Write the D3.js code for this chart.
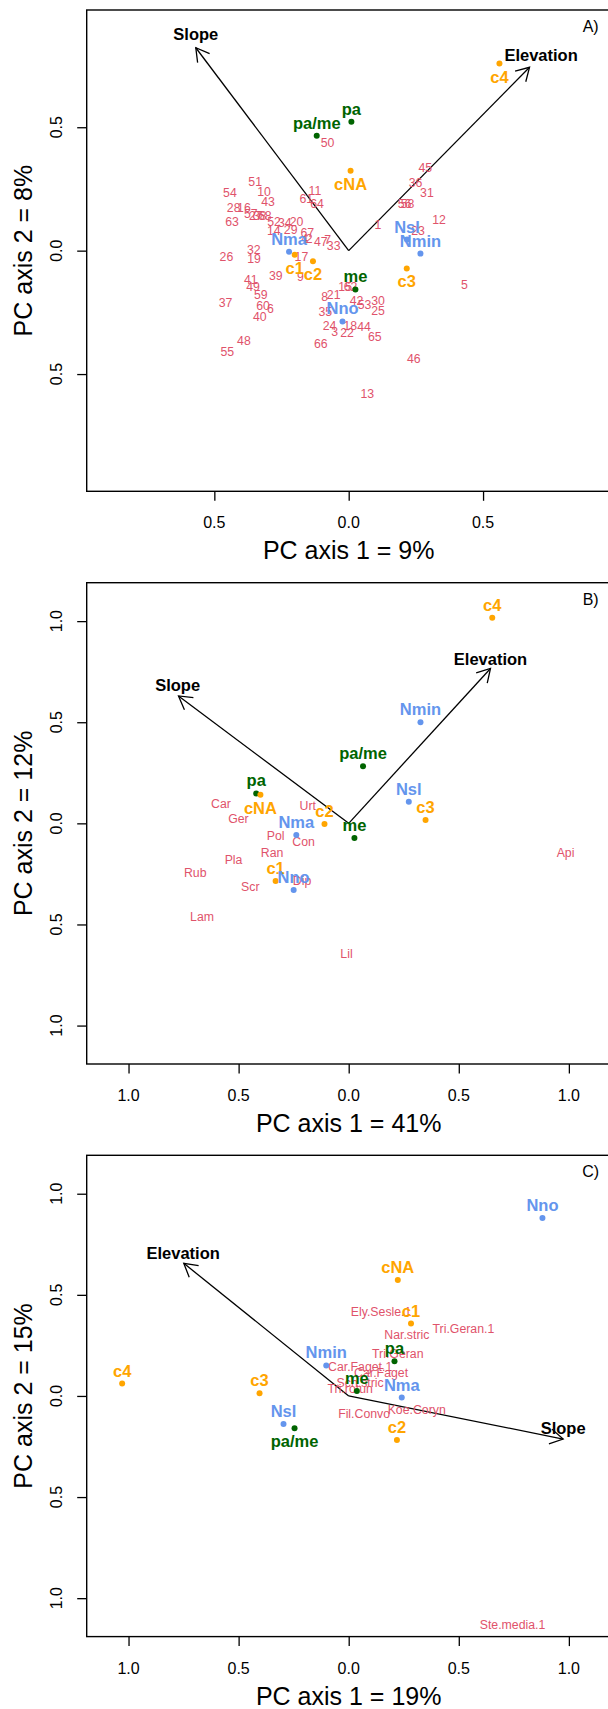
<!DOCTYPE html>
<html>
<head>
<meta charset="utf-8">
<script src="https://cdn.jsdelivr.net/npm/d3@7"></script>
<style>
  html, body { margin: 0; padding: 0; background: #ffffff; }
  svg { display: block; }
  text { font-family: "Liberation Sans", Arial, Helvetica, sans-serif; }
</style>
</head>
<body>
<svg id="chart" width="608" height="1709"></svg>
<script>
// ---------------- DATA ----------------
const panelTags = ["A)", "B)", "C)"];
const xTitles = ["PC axis 1 = 9%", "PC axis 1 = 41%", "PC axis 1 = 19%"];
const yTitles = ["PC axis 2 = 8%", "PC axis 2 = 12%", "PC axis 2 = 15%"];
const axisLimits = [0.975, 1.19, 1.19];
const ticksA = [-0.5, 0, 0.5];
const tickLabelsA = ["0.5", "0.0", "0.5"];
const ticksBC = [-1, -0.5, 0, 0.5, 1];
const tickLabelsBC = ["1.0", "0.5", "0.0", "0.5", "1.0"];

// environmental vectors: [name, tipX, tipY, labelX, labelY]
const vectorsA = [["Slope", -0.569, 0.822, -0.569, 0.877], ["Elevation", 0.673, 0.743, 0.716, 0.794]];
const vectorsB = [["Slope", -0.773, 0.630, -0.777, 0.684], ["Elevation", 0.644, 0.766, 0.644, 0.815]];
const vectorsC = [["Elevation", -0.749, 0.656, -0.752, 0.705], ["Slope", 0.974, -0.213, 0.974, -0.160]];

// group centroids: [name, x, y]
const groupsA = [["pa", 0.010, 0.522], ["pa/me", -0.119, 0.466], ["me", 0.025, -0.157],
  ["cNA", 0.007, 0.324], ["c1", -0.201, -0.017], ["c2", -0.133, -0.043], ["c3", 0.216, -0.072], ["c4", 0.561, 0.758],
  ["Nma", -0.222, -0.004], ["Nno", -0.023, -0.287], ["Nsl", 0.217, 0.045], ["Nmin", 0.267, -0.012]];
const groupsB = [["pa", -0.420, 0.148], ["pa/me", 0.065, 0.282], ["me", 0.026, -0.072],
  ["cNA", -0.401, 0.141], ["c1", -0.332, -0.285], ["c2", -0.110, -0.003], ["c3", 0.349, 0.016], ["c4", 0.652, 1.017],
  ["Nma", -0.238, -0.058], ["Nno", -0.250, -0.330], ["Nsl", 0.273, 0.107], ["Nmin", 0.326, 0.500]];
const groupsC = [["pa", 0.208, 0.172], ["pa/me", -0.246, -0.160], ["me", 0.037, 0.025],
  ["cNA", 0.223, 0.573], ["c1", 0.283, 0.358], ["c2", 0.219, -0.218], ["c3", -0.405, 0.013], ["c4", -1.029, 0.061],
  ["Nma", 0.241, -0.008], ["Nno", 0.88, 0.88], ["Nsl", -0.296, -0.139], ["Nmin", -0.102, 0.151]];
// groups whose label is written below the point
const labelsBelowA = ["cNA", "c1", "c2", "c3", "c4"];
const labelsBelowB = ["cNA"];
const labelsBelowC = ["pa/me"];

// site / species scores: [label, x, y]
const sitesA = [["50",-0.079,0.438],["45",0.285,0.335],["36",0.249,0.275],["31",0.291,0.235],["56",0.208,0.188],
  ["58",0.219,0.190],["12",0.336,0.126],["1",0.109,0.105],["23",0.258,0.081],["51",-0.348,0.277],["54",-0.442,0.235],
  ["10",-0.315,0.238],["11",-0.126,0.240],["61",-0.158,0.211],["64",-0.118,0.189],["43",-0.300,0.197],["28",-0.428,0.174],
  ["16",-0.390,0.174],["57",-0.364,0.150],["27",-0.346,0.140],["38",-0.331,0.142],["68",-0.312,0.139],["63",-0.434,0.115],
  ["52",-0.278,0.116],["34",-0.238,0.112],["20",-0.194,0.117],["14",-0.279,0.081],["29",-0.216,0.084],["67",-0.154,0.070],
  ["4",-0.164,0.047],["2",-0.147,0.049],["47",-0.104,0.034],["7",-0.078,0.043],["33",-0.056,0.020],["32",-0.353,0.003],
  ["26",-0.455,-0.027],["19",-0.352,-0.034],["17",-0.176,-0.024],["39",-0.271,-0.101],["9",-0.180,-0.105],["41",-0.364,-0.119],
  ["49",-0.356,-0.146],["59",-0.327,-0.178],["37",-0.458,-0.213],["60",-0.319,-0.223],["6",-0.291,-0.236],["40",-0.331,-0.270],
  ["8",-0.089,-0.189],["21",-0.056,-0.179],["35",-0.087,-0.250],["42",0.029,-0.206],["53",0.059,-0.219],["30",0.109,-0.206],
  ["25",0.109,-0.246],["24",-0.071,-0.304],["3",-0.052,-0.331],["18",0.006,-0.304],["22",-0.006,-0.335],["44",0.057,-0.311],
  ["65",0.097,-0.351],["66",-0.104,-0.378],["48",-0.390,-0.368],["55",-0.452,-0.409],["46",0.242,-0.440],["5",0.431,-0.139],
  ["13",0.069,-0.580],["15",-0.013,-0.149],["62",0.007,-0.149]];
const speciesB = [["Car",-0.580,0.097],["Ger",-0.501,0.023],["Urt",-0.186,0.085],["Pol",-0.332,-0.062],["Con",-0.205,-0.090],
  ["Ran",-0.348,-0.148],["Pla",-0.523,-0.182],["Rub",-0.697,-0.247],["Scr",-0.447,-0.316],["Dip",-0.212,-0.284],
  ["Lam",-0.666,-0.464],["Lil",-0.010,-0.644],["Api",0.985,-0.148]];
const speciesC = [["Ely.Sesle.1",0.147,0.415],["Tri.Geran.1",0.521,0.332],["Nar.stric",0.264,0.300],["Tri.Geran",0.223,0.209],
  ["Car.Faget.1",0.052,0.143],["Car.Faget",0.147,0.112],["Sch.stric",0.052,0.062],["Tri.rotun",0.007,0.033],
  ["Koe.Coryn",0.309,-0.069],["Fil.Convo",0.070,-0.090],["Ste.media.1",0.744,-1.134]];

// ---------------- STYLE ----------------
const RED = "#DF536B", BLUE = "#6495ED", ORANGE = "#FFA500", GREEN = "#006400";
function groupColor(name) {
  if (name.startsWith("N")) return BLUE;
  if (name.startsWith("c")) return ORANGE;
  return GREEN;
}

const svg = d3.select("#chart");
svg.append("rect").attr("width", 608).attr("height", 1709).attr("fill", "#fff");

const frameLeft = 86.7, frameW = 524, frameH = 481.3;
const panelTops = [10, 582.7, 1155.3];

const panelDefs = [
  { vectors: vectorsA, groups: groupsA, below: labelsBelowA, pts: sitesA, ticks: ticksA, tl: tickLabelsA },
  { vectors: vectorsB, groups: groupsB, below: labelsBelowB, pts: speciesB, ticks: ticksBC, tl: tickLabelsBC },
  { vectors: vectorsC, groups: groupsC, below: labelsBelowC, pts: speciesC, ticks: ticksBC, tl: tickLabelsBC }
];

panelDefs.forEach((p, i) => {
  const top = panelTops[i];
  const lim = axisLimits[i];
  const x = d3.scaleLinear().domain([-lim, lim]).range([frameLeft, frameLeft + frameW]);
  const y = d3.scaleLinear().domain([-lim, lim]).range([top + frameH, top]);
  const g = svg.append("g");

  const clipId = "clip" + i;
  svg.append("clipPath").attr("id", clipId).append("rect")
    .attr("x", frameLeft).attr("y", top).attr("width", frameW).attr("height", frameH);

  // axes (ticks)
  const xAxis = d3.axisBottom(x).tickValues(p.ticks).tickSize(9.5).tickFormat("");
  const gx = g.append("g").attr("transform", `translate(0,${top + frameH})`).call(xAxis);
  gx.select(".domain").remove();
  gx.selectAll("line").attr("stroke", "#000").attr("stroke-width", 1.3);
  const yAxis = d3.axisLeft(y).tickValues(p.ticks).tickSize(9.5).tickFormat("");
  const gy = g.append("g").attr("transform", `translate(${frameLeft},0)`).call(yAxis);
  gy.select(".domain").remove();
  gy.selectAll("line").attr("stroke", "#000").attr("stroke-width", 1.3);

  // tick labels
  g.selectAll(".xtl").data(p.ticks).enter().append("text")
    .attr("x", d => x(d)).attr("y", top + frameH + 31.5)
    .attr("text-anchor", "middle").attr("dominant-baseline", "central")
    .attr("font-size", 16).text((d, k) => p.tl[k]);
  g.selectAll(".ytl").data(p.ticks).enter().append("text")
    .attr("transform", d => `translate(56,${y(d)}) rotate(-90)`)
    .attr("text-anchor", "middle").attr("dominant-baseline", "central")
    .attr("font-size", 16).text((d, k) => p.tl[k]);

  // axis titles
  g.append("text").attr("x", x(0)).attr("y", top + frameH + 59)
    .attr("text-anchor", "middle").attr("dominant-baseline", "central")
    .attr("font-size", 25).text(xTitles[i]);
  g.append("text").attr("transform", `translate(23,${y(0)}) rotate(-90)`)
    .attr("text-anchor", "middle").attr("dominant-baseline", "central")
    .attr("font-size", 25).text(yTitles[i]);

  // frame
  g.append("rect").attr("x", frameLeft).attr("y", top).attr("width", frameW).attr("height", frameH)
    .attr("fill", "none").attr("stroke", "#000").attr("stroke-width", 1.4);

  // panel tag
  g.append("text").attr("x", 590.7).attr("y", top + 16.3)
    .attr("text-anchor", "middle").attr("dominant-baseline", "central")
    .attr("font-size", 16).text(panelTags[i]);

  const plot = g.append("g").attr("clip-path", `url(#${clipId})`);

  // vectors
  p.vectors.forEach(v => {
    const x0 = x(0), y0 = y(0), x1 = x(v[1]), y1 = y(v[2]);
    plot.append("line").attr("x1", x0).attr("y1", y0).attr("x2", x1).attr("y2", y1)
      .attr("stroke", "#000").attr("stroke-width", 1.3);
    const ang = Math.atan2(y1 - y0, x1 - x0);
    const L = 15, a = Math.PI / 6;
    const path = d3.path();
    path.moveTo(x1 - L * Math.cos(ang - a), y1 - L * Math.sin(ang - a));
    path.lineTo(x1, y1);
    path.lineTo(x1 - L * Math.cos(ang + a), y1 - L * Math.sin(ang + a));
    plot.append("path").attr("d", path.toString()).attr("fill", "none")
      .attr("stroke", "#000").attr("stroke-width", 1.3);
    plot.append("text").attr("x", x(v[3])).attr("y", y(v[4]))
      .attr("text-anchor", "middle").attr("dominant-baseline", "central")
      .attr("font-size", 16.5).attr("font-weight", "bold").attr("fill", "#000").text(v[0]);
  });

  // site / species labels
  plot.selectAll(".pt").data(p.pts).enter().append("text")
    .attr("x", d => x(d[1])).attr("y", d => y(d[2]))
    .attr("text-anchor", "middle").attr("dominant-baseline", "central")
    .attr("font-size", 12.3).attr("fill", RED).text(d => d[0]);

  // groups
  plot.selectAll(".gdot").data(p.groups).enter().append("circle")
    .attr("cx", d => x(d[1])).attr("cy", d => y(d[2])).attr("r", 3)
    .attr("fill", d => groupColor(d[0]));
  plot.selectAll(".glab").data(p.groups).enter().append("text")
    .attr("x", d => x(d[1]))
    .attr("y", d => y(d[2]) + (p.below.includes(d[0]) ? 13 : -13))
    .attr("text-anchor", "middle").attr("dominant-baseline", "central")
    .attr("font-size", 16.5).attr("font-weight", "bold")
    .attr("fill", d => groupColor(d[0])).text(d => d[0]);
});
</script>
</body>
</html>
